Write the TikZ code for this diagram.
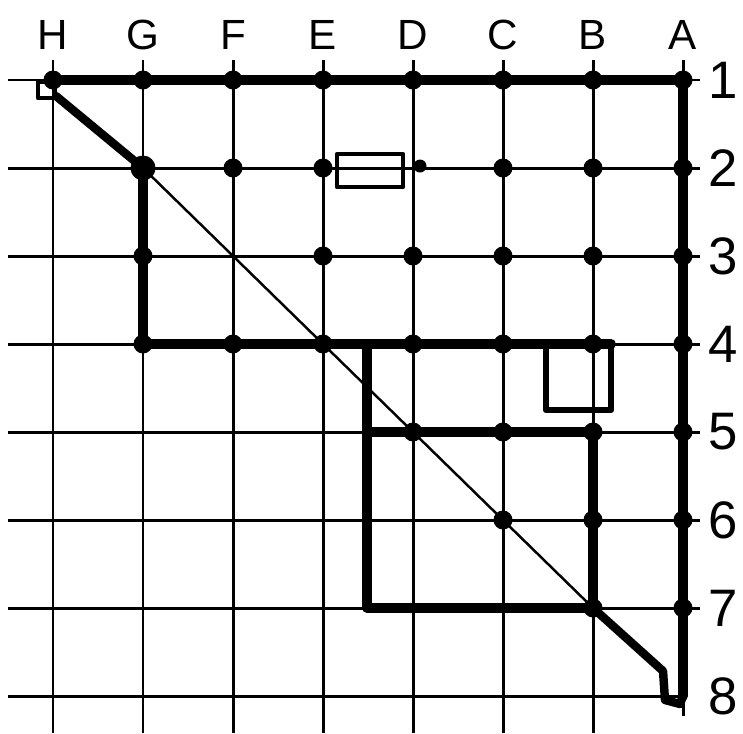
\documentclass[tikz,border=0pt]{standalone}
\usepackage{fontspec}
\setmainfont{Liberation Sans}
\usetikzlibrary{calc}

\begin{document}
\begin{tikzpicture}[
  x=0.01cm, y=-0.01cm,
  gridline/.style={line width=0.85pt, black},
  wall/.style={line width=2.8pt, line join=round, line cap=round},
  diag/.style={line width=0.7pt},
  box/.style={line width=1.3pt, line join=round},
  pt/.style={circle, fill, inner sep=0pt, minimum size=0.19cm},
  collabel/.style={font=\fontsize{12}{14}\selectfont},
  rowlabel/.style={font=\fontsize{15}{17}\selectfont}
]
\useasboundingbox (0,0) rectangle (743,733);

% grid points: columns H..A, rows 1..8
\foreach \c [count=\i from 0] in {H,G,F,E,D,C,B,A}
  \foreach \r in {1,...,8}
    \coordinate (\c\r) at ({53+90*\i},{80+88*(\r-1)});
\coordinate (bottom) at (0,733);

% thin grid
\foreach \r in {1,...,7}
  \draw[gridline] ([xshift=-0.45cm]H\r) -- ([xshift=0.17cm]A\r);
\draw[gridline] ([xshift=-0.45cm]H8) -- (A8);
\foreach \c in {H,G,F,E,D,C,B}
  \draw[gridline] ([yshift=0.2cm]\c1) -- (\c1 |- bottom);
\draw[gridline] ([yshift=0.2cm]A1) -- ([yshift=-0.2cm]A8);

% thick outlines
\draw[wall] (H1) -- (A1) -- (A8);
\draw[wall] (G2) -- (G4) -- ($(B4)+(18,0)$);
\draw[wall] ($(D4)+(-46,0)$) -- ($(D7)+(-46,0)$) -- (B7) -- (B5) -- ($(D5)+(-46,0)$);
\draw[box, line width=1.8pt] ($(B4)+(-47,0)$) -- ($(B4)+(-47,66)$) -- ($(B4)+(18,66)$) -- ($(B4)+(18,0)$);
\draw[box] ($(E2)+(14,-14)$) rectangle ($(E2)+(80,19)$);
\draw[box] ($(H1)+(-15,2)$) rectangle ($(H1)+(2,18)$);

% diagonal
\draw[line width=2.4pt, line cap=round] ($(H1)+(3,16)$) -- (G2);
\draw[diag] (G2) -- (F3) -- (E4) -- (D5) -- (C6) -- (B7);
\draw[line width=2.4pt, line join=round] (B7) -- ($(A8)+(-20,-25)$) -- ($(A8)+(-18,4)$) -- ($(A8)+(-3,8)$) -- (A8);

% dots
\foreach \p in {H1,G1,F1,E1,D1,C1,B1,A1,
                F2,E2,C2,B2,A2,
                G3,E3,D3,C3,B3,A3,
                G4,F4,E4,D4,C4,B4,A4,
                D5,C5,B5,A5,
                C6,B6,A6,
                B7,A7}
  \node[pt] (dot\p) at (\p) {};
\node[pt, minimum size=0.25cm] (dotG2) at (G2) {};
\node[pt, minimum size=0.13cm] (dotD2) at ([xshift=0.07cm,yshift=0.02cm]D2) {};

% labels
\foreach \c in {H,G,F,E,D,C,B,A}
  \node[collabel] (lbl\c) at ([yshift=0.45cm]\c1) {\c};
\foreach \r in {1,...,8}
  \node[rowlabel] (num\r) at ([xshift=0.4cm]A\r) {\r};

\end{tikzpicture}
\end{document}
